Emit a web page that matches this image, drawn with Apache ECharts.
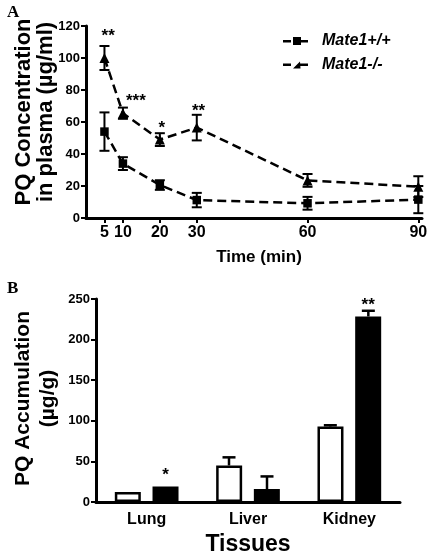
<!DOCTYPE html>
<html><head><meta charset="utf-8">
<script src="https://cdn.jsdelivr.net/npm/echarts@6/dist/echarts.min.js"></script>
<style>html,body{margin:0;padding:0;background:#fff}#c{width:427px;height:553px}</style>
</head><body><div id="c"></div>
<script>
// ---- Panel A data ----
const timePoints = [5, 10, 20, 30, 60, 90];
const wtPlasma = [54, 34, 20.6, 11.2, 9.2, 11.5];
const wtPlasmaErr = [12, 4, 3, 4.5, 4, 8.5];
const koPlasma = [100, 65.5, 49, 56.5, 23.5, 19.6];
const koPlasmaErr = [7.5, 3.5, 4, 8, 4, 6.5];
const plasmaStarX = [6, 13.5, 20.5, 30.5];
const plasmaStarY = [116, 75.5, 58.5, 69];
const plasmaStars = ['**', '***', '*', '**'];
// ---- Panel B data ----
const tissues = ['Lung', 'Liver', 'Kidney'];
const wtTissue = [12.3, 45, 93];
const wtTissueErr = [0, 10, 1.5];
const koTissue = [19.2, 16, 228.5];
const koTissueErr = [0, 15.5, 7];
const tissueStars = ['*', '', '**'];

const FONT = '"Liberation Sans", Arial, sans-serif';
const chart = echarts.init(document.getElementById('c'), null, {renderer: 'canvas'});

function errBarsBoth(params, api) {
  const x = api.value(0), y = api.value(1), e = api.value(2);
  const t = api.coord([x, y + e]), b = api.coord([x, y - e]);
  const w = 5;
  const st = {stroke: '#000', lineWidth: 2};
  return {type: 'group', children: [
    {type: 'line', shape: {x1: t[0], y1: t[1], x2: b[0], y2: b[1]}, style: st},
    {type: 'line', shape: {x1: t[0] - w, y1: t[1], x2: t[0] + w, y2: t[1]}, style: st},
    {type: 'line', shape: {x1: b[0] - w, y1: b[1], x2: b[0] + w, y2: b[1]}, style: st}
  ]};
}
function errBarsUp(offset) {
  return function (params, api) {
    const x = api.value(0), y = api.value(1), e = api.value(2);
    if (!e) return null;
    const t = api.coord([x, y + e]), b = api.coord([x, y]);
    const w = 6.5;
    const st = {stroke: '#000', lineWidth: 2.5};
    return {type: 'group', children: [
      {type: 'line', shape: {x1: t[0] + offset, y1: t[1], x2: b[0] + offset, y2: b[1]}, style: st},
      {type: 'line', shape: {x1: t[0] + offset - w, y1: t[1], x2: t[0] + offset + w, y2: t[1]}, style: st}
    ]};
  };
}
function starText(params, api) {
  const p = api.coord([api.value(0), api.value(1)]);
  return {type: 'text', x: p[0], y: p[1] + 4, style: {
    text: plasmaStars[params.dataIndex], fill: '#000',
    font: 'bold 17px ' + FONT, align: 'center', verticalAlign: 'middle'}};
}

const axisLine = {lineStyle: {color: '#000', width: 3}};
const axisTick = {length: 5, lineStyle: {color: '#000', width: 2}};
const yLabel = {color: '#000', fontWeight: 'bold', fontSize: 13, fontFamily: FONT, margin: 6};
const xLabel = {color: '#000', fontWeight: 'bold', fontSize: 16, fontFamily: FONT};
const iconSquare = 'path://M0,3.5h8v2.5h-8z M10,0.5h8v8h-8z M18,3.5h7v2.5h-7z';
const iconTriangle = 'path://M0,3.5h8v2.5h-8z M10,8.5L17,1.5L17.5,8.5z M17,3.5h8v2.5h-8z';

const option = {
  backgroundColor: '#fff',
  animation: false,
  graphic: [
    {type: 'text', left: 7, top: 4, style: {text: 'A', font: 'bold 17px "Liberation Serif", "Times New Roman", serif', fill: '#000'}},
    {type: 'text', left: 7, top: 280, style: {text: 'B', font: 'bold 17px "Liberation Serif", "Times New Roman", serif', fill: '#000'}}
  ],
  legend: {
    orient: 'vertical', left: 278, top: 28, itemGap: 8, itemWidth: 25, itemHeight: 9,
    selectedMode: false,
    data: [{name: 'Mate1+/+', icon: iconSquare}, {name: 'Mate1-/-', icon: iconTriangle}],
    textStyle: {color: '#000', fontWeight: 'bold', fontStyle: 'italic', fontSize: 16, fontFamily: FONT, padding: [0, 0, 0, 9]}
  },
  grid: [
    {left: 86, top: 26, width: 336, height: 192, outerBoundsMode: 'none', containLabel: false},
    {left: 96, top: 299, width: 304, height: 203, outerBoundsMode: 'none', containLabel: false}
  ],
  xAxis: [
    {gridIndex: 0, type: 'value', min: 0, max: 91, splitLine: {show: false},
     axisLine: axisLine,
     axisTick: Object.assign({customValues: timePoints}, axisTick),
     axisLabel: Object.assign({customValues: timePoints, margin: 7}, xLabel),
     name: 'Time (min)', nameLocation: 'middle', nameGap: 31, nameMoveOverlap: false,
     nameTextStyle: {color: '#000', fontWeight: 'bold', fontSize: 17, fontFamily: FONT, padding: [0, 0, 0, 10]}},
    {gridIndex: 1, type: 'category', data: tissues,
     axisLine: axisLine, axisTick: {show: false},
     axisLabel: Object.assign({margin: 10}, xLabel),
     name: 'Tissues', nameLocation: 'middle', nameGap: 31, nameMoveOverlap: false,
     nameTextStyle: {color: '#000', fontWeight: 'bold', fontSize: 23, fontFamily: FONT}}
  ],
  yAxis: [
    {gridIndex: 0, type: 'value', min: 0, max: 120, interval: 20, splitLine: {show: false},
     axisLine: Object.assign({show: true}, axisLine), axisTick: Object.assign({show: true}, axisTick), axisLabel: yLabel,
     name: 'PQ Concentration\nin plasma (\u00b5g/ml)', nameLocation: 'middle', nameGap: 29, nameRotate: 90, nameMoveOverlap: false,
     nameTextStyle: {color: '#000', fontWeight: 'bold', fontSize: 22, lineHeight: 22, fontFamily: FONT, padding: [0, 0, 0, 20]}},
    {gridIndex: 1, type: 'value', min: 0, max: 250, interval: 50, splitLine: {show: false},
     axisLine: Object.assign({show: true}, axisLine), axisTick: Object.assign({show: true}, axisTick), axisLabel: yLabel,
     name: 'PQ Accumulation\n(\u00b5g/g)', nameLocation: 'middle', nameGap: 35, nameRotate: 90, nameMoveOverlap: false,
     nameTextStyle: {color: '#000', fontWeight: 'bold', fontSize: 21, lineHeight: 25, fontFamily: FONT, padding: [0, 0, 0, 4]}}
  ],
  series: [
    {type: 'custom', xAxisIndex: 0, yAxisIndex: 0, renderItem: errBarsBoth, z: 1,
     data: timePoints.map((t, i) => [t, wtPlasma[i], wtPlasmaErr[i]])},
    {type: 'custom', xAxisIndex: 0, yAxisIndex: 0, renderItem: errBarsBoth, z: 1,
     data: timePoints.map((t, i) => [t, koPlasma[i], koPlasmaErr[i]])},
    {name: 'Mate1+/+', type: 'line', xAxisIndex: 0, yAxisIndex: 0, z: 3,
     data: timePoints.map((t, i) => [t, wtPlasma[i]]),
     symbol: 'rect', symbolSize: 8.5, itemStyle: {color: '#000'},
     lineStyle: {color: '#000', width: 2.5, type: [9, 5]}},
    {name: 'Mate1-/-', type: 'line', xAxisIndex: 0, yAxisIndex: 0, z: 3,
     data: timePoints.map((t, i) => [t, koPlasma[i]]),
     symbol: 'triangle', symbolSize: 10, itemStyle: {color: '#000'},
     lineStyle: {color: '#000', width: 2.5, type: [9, 5]}},
    {type: 'custom', xAxisIndex: 0, yAxisIndex: 0, renderItem: starText, z: 4,
     data: plasmaStarX.map((x, i) => [x, plasmaStarY[i]])},
    {name: 'Mate1+/+ tissue', type: 'bar', xAxisIndex: 1, yAxisIndex: 1, data: wtTissue,
     barWidth: 26, barGap: '45%',
     itemStyle: {color: '#fff', borderColor: '#000', borderWidth: 2.5}},
    {name: 'Mate1-/- tissue', type: 'bar', xAxisIndex: 1, yAxisIndex: 1, data: koTissue,
     barWidth: 26,
     itemStyle: {color: '#000', borderColor: '#000', borderWidth: 2.5},
     label: {show: true, position: 'top', distance: 3, color: '#000', fontWeight: 'bold', fontSize: 17, fontFamily: FONT,
             formatter: p => tissueStars[p.dataIndex]}},
    {type: 'custom', xAxisIndex: 1, yAxisIndex: 1, renderItem: errBarsUp(-19), z: 1,
     data: tissues.map((c, i) => [i, wtTissue[i], wtTissueErr[i]])},
    {type: 'custom', xAxisIndex: 1, yAxisIndex: 1, renderItem: errBarsUp(19), z: 1,
     data: tissues.map((c, i) => [i, koTissue[i], koTissueErr[i]])}
  ]
};
chart.setOption(option);
</script></body></html>
